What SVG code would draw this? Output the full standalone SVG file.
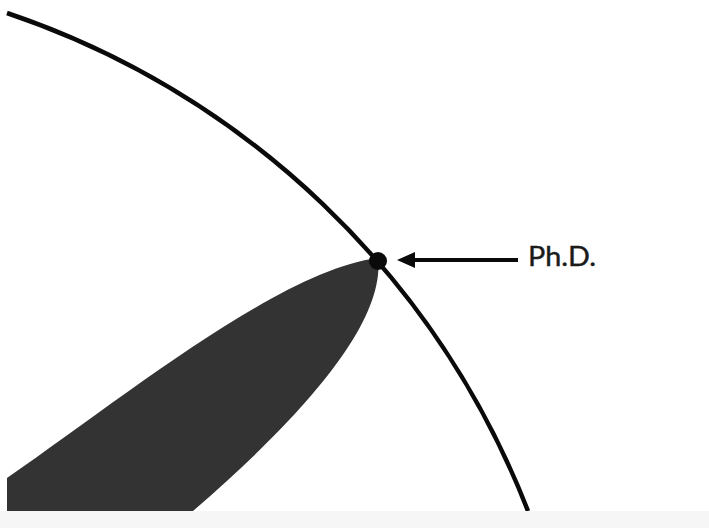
<svg xmlns="http://www.w3.org/2000/svg" width="709" height="528" viewBox="0 0 709 528">
<style>
.arc{fill:none;stroke:#0a0a0a;stroke-width:4.5}
.blob{fill:#333333}
.lbl{font-family:Lato,"Open Sans",sans-serif;font-size:26px;fill:#1a1a1a;stroke:#1a1a1a;stroke-width:0.4}
</style>
<rect width="709" height="528" fill="#ffffff"/>
<g id="knowledge">
<path class="arc" d="M7,13 A850.6,850.6 0 0 1 528,511"/>
</g>
<g id="specialty">
<path class="blob" d="M7,478 C120,400 280,270 378,258 C385,320 310,410 193,511 L7,511 Z"/>
</g>
<g id="phd-dot">
<circle cx="378" cy="261" r="9" fill="#0a0a0a"/>
</g>
<g id="connectors">
<line x1="518" y1="260" x2="413" y2="260" stroke="#0a0a0a" stroke-width="4"/>
<path d="M415,252 L397,260 L415,268 Z" fill="#0a0a0a"/>
</g>
<g id="label">
<text class="lbl" x="528" y="266" textLength="68" lengthAdjust="spacingAndGlyphs">Ph.D.</text>
</g>
<rect x="0" y="511" width="709" height="17" fill="#f6f6f6"/>
</svg>
